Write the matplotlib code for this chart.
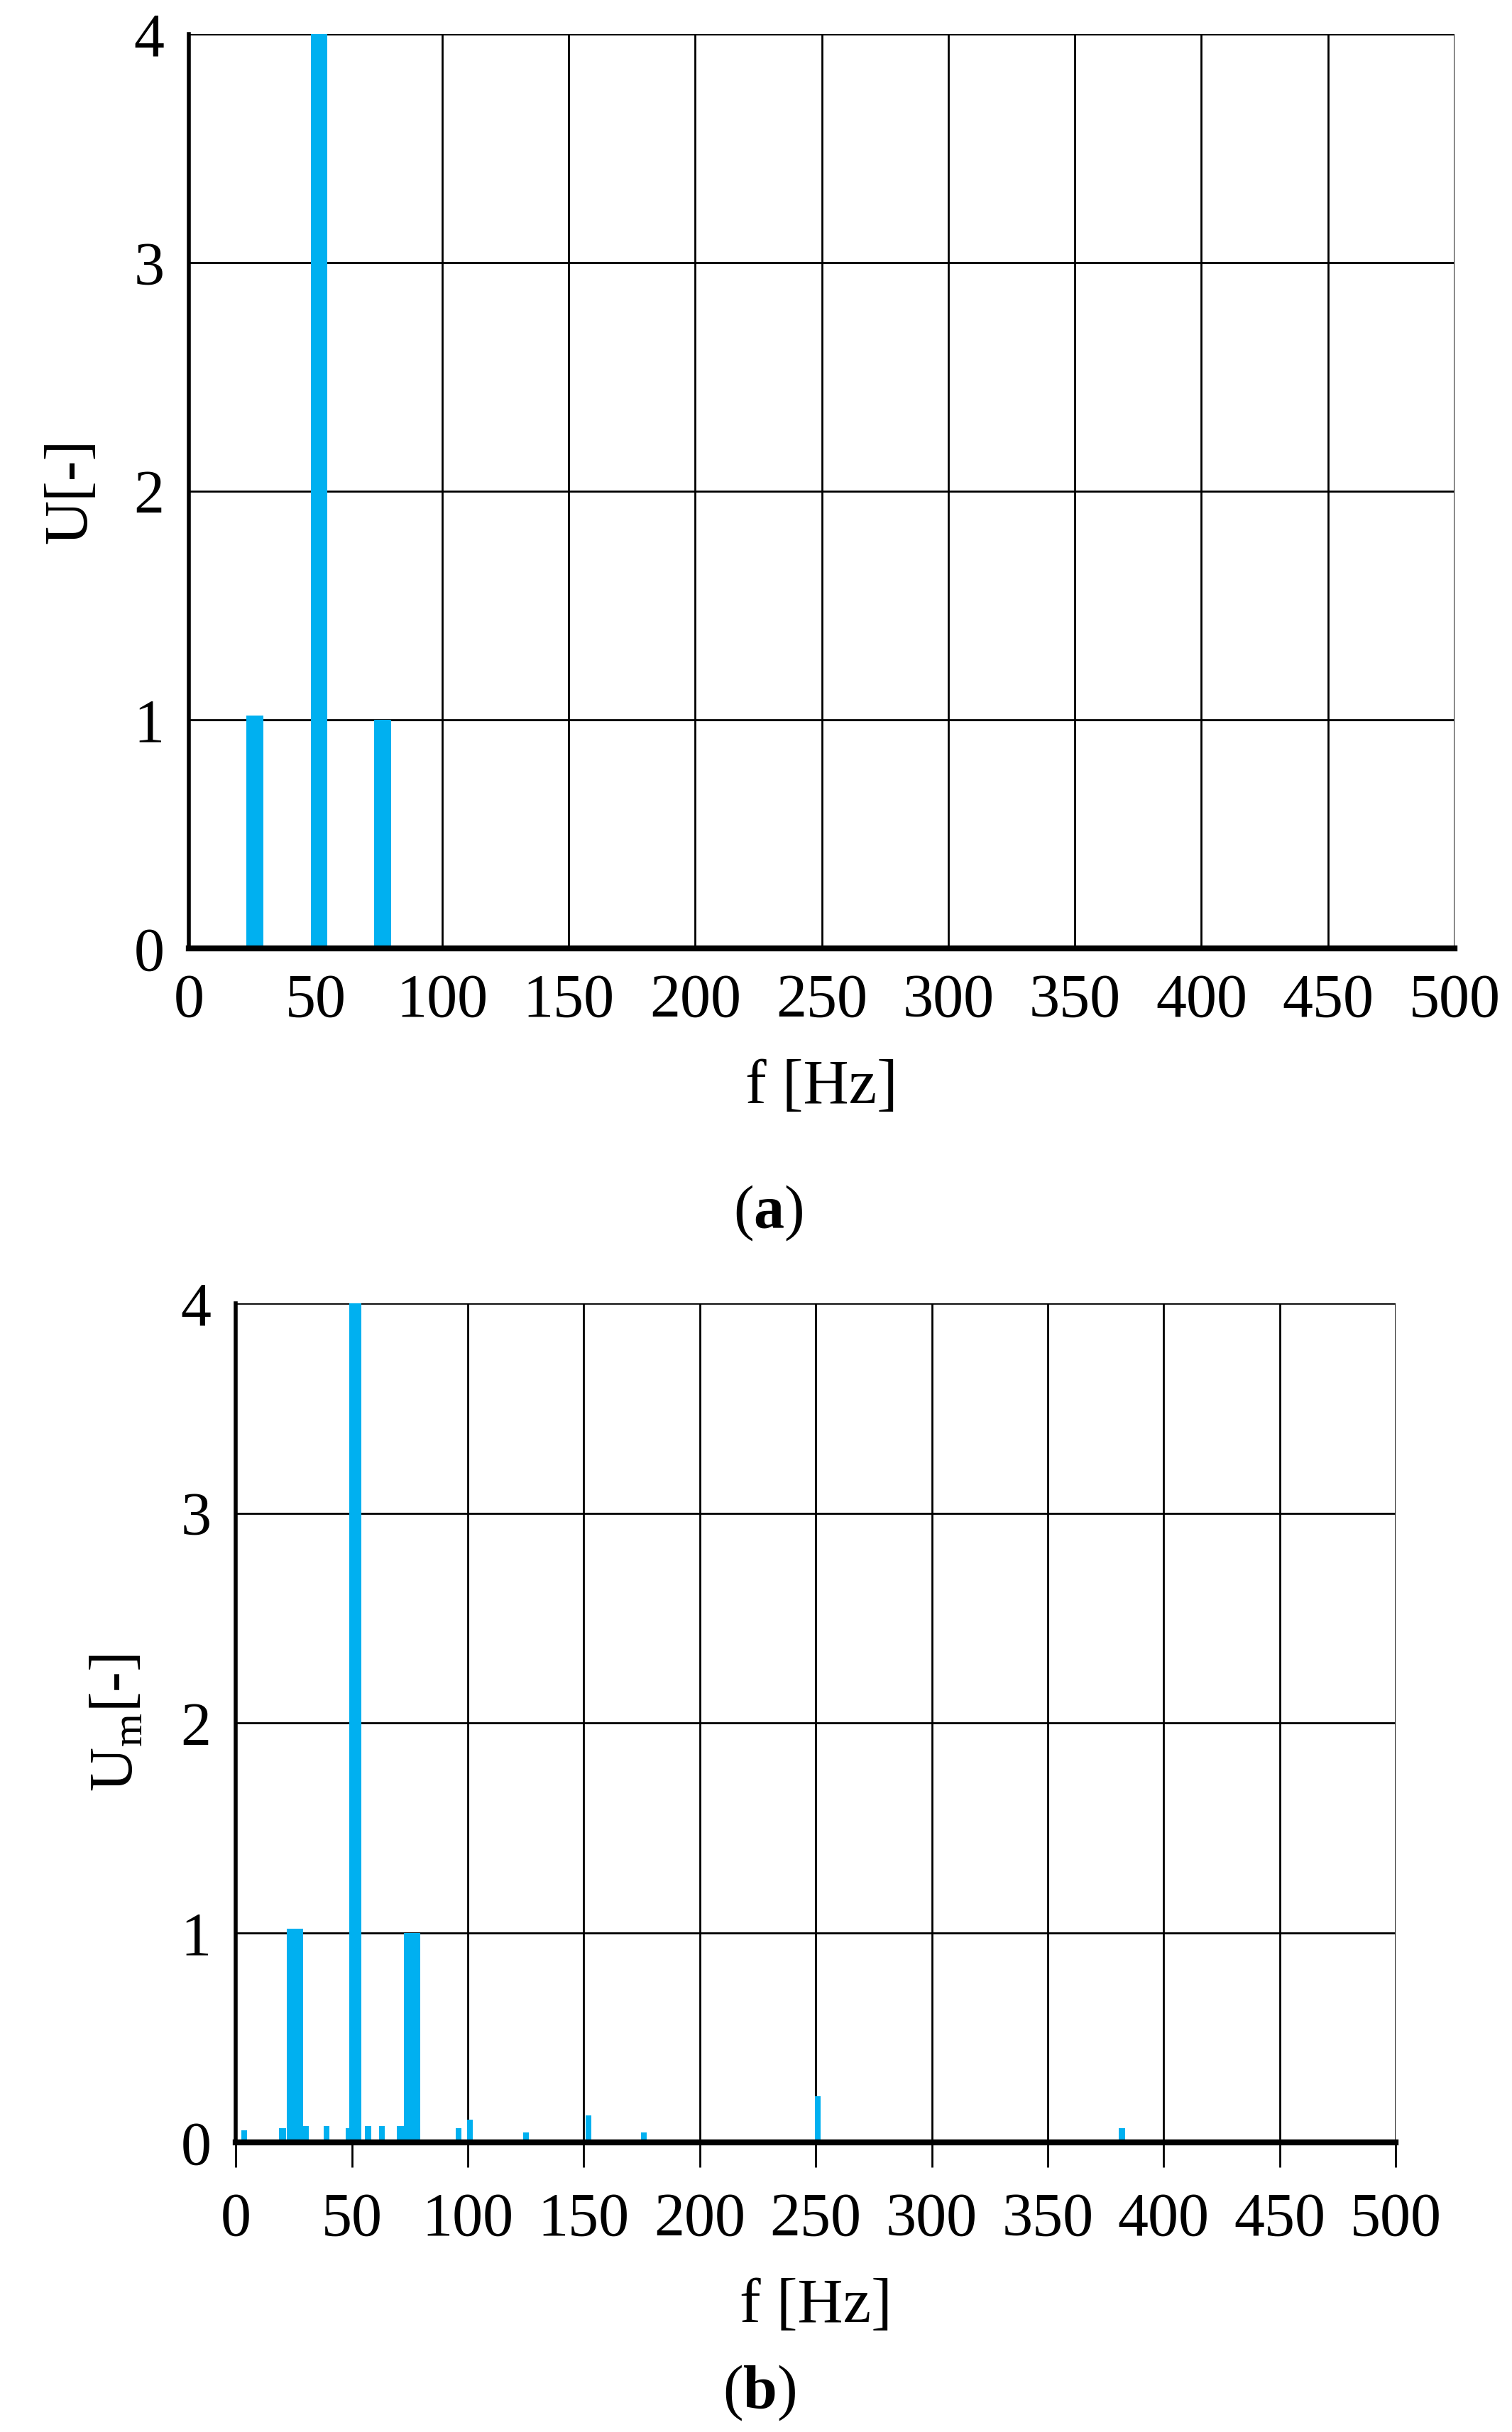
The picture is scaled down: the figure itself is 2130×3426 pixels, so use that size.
import matplotlib
matplotlib.use("Agg")
import matplotlib.pyplot as plt

plt.rcParams['font.family'] = ['Liberation Serif', 'DejaVu Serif']
plt.rcParams['mathtext.fontset'] = 'custom'
plt.rcParams['mathtext.rm'] = 'Liberation Serif'
plt.rcParams['mathtext.bf'] = 'Liberation Serif:bold'

# panel (a): ideal spectrum
freq_a = [26, 51.5, 76.5]
amp_a = [1.02, 4.0, 1.0]

# panel (b): measured spectrum
freq_b = [25.5, 51.5, 76, 3.6, 20, 30, 39, 49, 57, 63, 71, 96, 101, 125, 152, 176, 251, 382]
amp_b = [1.02, 4.0, 1.0, 0.06, 0.07, 0.08, 0.08, 0.07, 0.08, 0.08, 0.08, 0.07, 0.11, 0.05, 0.13, 0.05, 0.22, 0.07]
width_b = [7, 5, 7, 2.5, 3, 3, 2.5, 3, 2.5, 2.5, 3, 2.5, 2.5, 2.5, 2.5, 2.5, 2.5, 2.5]

xticks = [0, 50, 100, 150, 200, 250, 300, 350, 400, 450, 500]
yticks = [0, 1, 2, 3, 4]
blue = '#00B0F0'

fig = plt.figure(figsize=(21.3, 34.26), dpi=100)
ax1 = fig.add_axes([0.125, 0.610, 0.837, 0.376])
ax2 = fig.add_axes([0.156, 0.119, 0.767, 0.345])

ax1.bar(freq_a, amp_a, width=6.5, color=blue, zorder=3)
ax2.bar(freq_b, amp_b, width=width_b, color=blue, zorder=3)

for ax, ylab in [(ax1, 'U[-]'), (ax2, r'U$_\mathregular{m}$[-]')]:
    ax.set_xlim(0, 500)
    ax.set_ylim(0, 4)
    ax.set_xticks(xticks)
    ax.set_yticks(yticks)
    ax.grid(True, color='black', linewidth=2, zorder=1)
    ax.tick_params(labelsize=62, length=0, pad=25)
    for s in ['top', 'right']:
        ax.spines[s].set_visible(False)
    ax.spines['left'].set_linewidth(4)
    ax.spines['bottom'].set_linewidth(6)
    ax.spines['bottom'].set_zorder(4)
    ax.set_ylabel(ylab, fontsize=62, labelpad=35)
    ax.set_xlabel('f [Hz]', fontsize=64, labelpad=30)

ax2.tick_params(axis='x', length=25, width=2, direction='out')

fig.text(0.508, 0.501, r'($\mathbf{a}$)', fontsize=62, ha='center', va='center')
fig.text(0.502, 0.016, r'($\mathbf{b}$)', fontsize=62, ha='center', va='center')

fig.savefig('out.png', dpi=100)
